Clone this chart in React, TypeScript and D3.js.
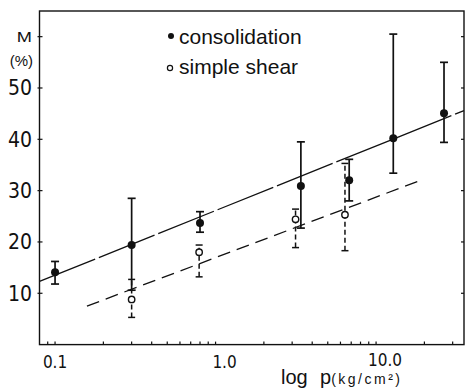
import * as d3 from "d3";

// consolidation: mean and error range
const consP = [0.1, 0.3, 0.8, 3.4, 6.8, 12.8, 26.5];
const consM = [14.1, 19.4, 23.7, 30.9, 32.0, 40.2, 45.1];
const consLow = [11.8, 10.6, 21.9, 22.7, 28.0, 33.4, 39.4];
const consHigh = [16.2, 28.5, 25.9, 39.5, 36.1, 60.5, 55.0];

// simple shear
const shearP = [0.3, 0.79, 3.15, 6.4];
const shearM = [8.8, 18.0, 24.4, 25.3];
const shearLow = [5.3, 13.2, 18.9, 18.3];
const shearHigh = [12.7, 19.4, 26.4, 35.3];

// fitted lines (end points)
const consFitP = [0.08, 35.3];
const consFitM = [12.3, 45.6];
const shearFitP = [0.158, 19.3];
const shearFitM = [7.5, 32.1];

const xMinorTicks = [0.09, 0.1, 0.2, 0.3, 0.4, 0.5, 0.6, 0.7, 0.8, 0.9, 1, 2, 3, 4, 5, 6, 7, 8, 9, 10, 20, 30];
const xLabels = [0.1, 1, 10];
const xLabelText = ["0.1", "1.0", "10.0"];
const yTicks = [10, 20, 30, 40, 50, 60];
const yLabelText = ["10", "20", "30", "40", "50", "M"];
const legendNames = ["consolidation", "simple shear"];

const W = 466, H = 390;
const left = 39.5, right = 464, top = 11, bottom = 344.6;

const narrow = "'Liberation Sans Narrow', 'DejaVu Sans Condensed', 'Liberation Sans', Arial, sans-serif";
const sans = "'Liberation Sans', Arial, sans-serif";

export default function App() {
  const x = d3.scaleLog().domain([0.08, 35.3]).range([left, right]);
  const y = d3.scaleLinear().domain([0, 65]).range([bottom, top]);
  const line = d3.line<[number, number]>().x(d => x(d[0])).y(d => y(d[1]));

  const consFit = consFitP.map((p, i) => [p, consFitM[i]] as [number, number]);
  const shearFit = shearFitP.map((p, i) => [p, shearFitM[i]] as [number, number]);

  return (
    <svg width={W} height={H} style={{ position: "absolute", left: 0, top: 0, background: "#fff" }}>
      {/* frame */}
      <rect x={left} y={top} width={right - left} height={bottom - top} fill="none" stroke="#111" strokeWidth={1.4} />

      {/* x ticks */}
      {xMinorTicks.map(t => (
        <line key={"xt" + t} x1={x(t)} x2={x(t)} y1={bottom} y2={bottom - 3} stroke="#111" strokeWidth={1.2} />
      ))}
      {xLabels.map((t, i) => (
        <text key={"xl" + t} x={x(t) + (t >= 1 ? 9 : 0)} y={t >= 10 ? 366 : 368} textAnchor="middle"
          fontFamily={narrow} fontSize={17} fill="#111">{xLabelText[i]}</text>
      ))}

      {/* y ticks, both sides */}
      {yTicks.map((t, i) => (
        <g key={"yt" + t}>
          <line x1={left - 2} x2={left + 3} y1={y(t)} y2={y(t)} stroke="#111" strokeWidth={1.2} />
          <line x1={right - 3} x2={right} y1={y(t)} y2={y(t)} stroke="#111" strokeWidth={1.2} />
          {i < 5 ? (
            <text x={32} y={y(t) + 7.5} textAnchor="end" fontFamily={narrow} fontSize={21} fill="#111">{yLabelText[i]}</text>
          ) : (
            <text x={32} y={y(t) + 5} textAnchor="end" fontFamily={sans} fontSize={14} fill="#111"
              transform={`translate(32 ${y(t)}) scale(1.3 1) translate(-32 ${-y(t)})`}>{yLabelText[i]}</text>
          )}
        </g>
      ))}
      <text x={33} y={66} textAnchor="end" fontFamily={sans} fontSize={15} fill="#111">(%)</text>

      {/* axis title */}
      <text x={281} y={384} fontFamily={sans} fontSize={20} fill="#111">
        log
        <tspan x={320}>p</tspan>
        <tspan fontSize={14} letterSpacing={2.5}>(kg/cm²)</tspan>
      </text>

      {/* fit lines */}
      <path d={line(consFit) || ""} fill="none" stroke="#111" strokeWidth={1.3} strokeDasharray="60 4" />
      <path d={line(shearFit) || ""} fill="none" stroke="#111" strokeWidth={1.3} strokeDasharray="13 7" />

      {/* simple shear error bars */}
      {shearP.map((p, i) => (
        <g key={"se" + i} stroke="#111" strokeWidth={1.5}>
          <line x1={x(p)} x2={x(p)} y1={y(shearLow[i])} y2={y(shearHigh[i])} strokeDasharray="5 3" />
          <line x1={x(p) - 3.5} x2={x(p) + 3.5} y1={y(shearLow[i])} y2={y(shearLow[i])} />
          <line x1={x(p) - 3.5} x2={x(p) + 3.5} y1={y(shearHigh[i])} y2={y(shearHigh[i])} />
        </g>
      ))}

      {/* consolidation error bars */}
      {consP.map((p, i) => (
        <g key={"ce" + i} stroke="#111" strokeWidth={1.7}>
          <line x1={x(p)} x2={x(p)} y1={y(consLow[i])} y2={y(consHigh[i])} />
          <line x1={x(p) - 4} x2={x(p) + 4} y1={y(consLow[i])} y2={y(consLow[i])} />
          <line x1={x(p) - 4} x2={x(p) + 4} y1={y(consHigh[i])} y2={y(consHigh[i])} />
        </g>
      ))}

      {/* points */}
      {shearP.map((p, i) => (
        <circle key={"sp" + i} cx={x(p)} cy={y(shearM[i])} r={3.2} fill="#fff" stroke="#111" strokeWidth={1.4} />
      ))}
      {consP.map((p, i) => (
        <circle key={"cp" + i} cx={x(p)} cy={y(consM[i])} r={4} fill="#111" />
      ))}

      {/* legend */}
      <circle cx={171} cy={36} r={3} fill="#111" />
      <text x={179} y={44} fontFamily={sans} fontSize={21} fill="#111">{legendNames[0]}</text>
      <circle cx={170} cy={68} r={2.6} fill="#fff" stroke="#111" strokeWidth={1.2} />
      <text x={179} y={74} fontFamily={sans} fontSize={21} fill="#111">{legendNames[1]}</text>
    </svg>
  );
}
